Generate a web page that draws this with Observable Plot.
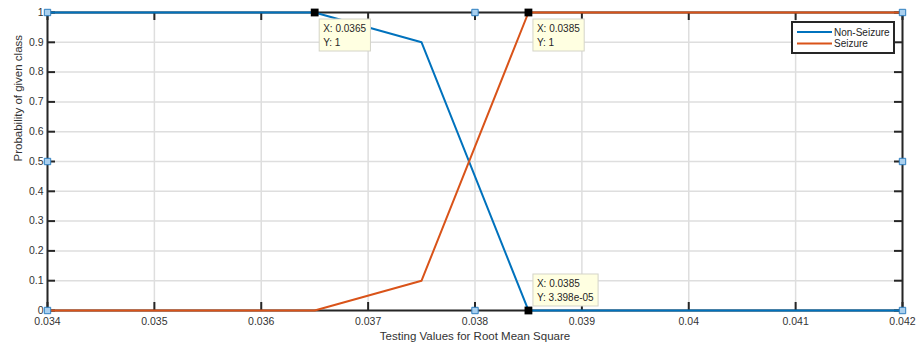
<!DOCTYPE html>
<html>
<head>
<meta charset="utf-8">
<script src="https://cdn.jsdelivr.net/npm/d3@7"></script>
<script src="https://cdn.jsdelivr.net/npm/@observablehq/plot@0.6"></script>
<style>
  html, body { margin: 0; padding: 0; background: #fff; }
  svg { display: block; }
</style>
</head>
<body>
<script>
// Classifier output probabilities across RMS test values
const testValues = [0.034, 0.0365, 0.0375, 0.0385, 0.042];
const nonSeizure = [1, 1, 0.9, 3.398e-5, 0];
const seizure    = [0, 0, 0.1, 1, 1];
const seriesNames = ["Non-Seizure", "Seizure"];
const seriesColors = ["#0072BD", "#D95319"];

const xTicks = [0.034, 0.035, 0.036, 0.037, 0.038, 0.039, 0.04, 0.041, 0.042];
const yTicks = [0, 0.1, 0.2, 0.3, 0.4, 0.5, 0.6, 0.7, 0.8, 0.9, 1];

// Data tips: [series index, point index, box placement relative to the point]
const tipPoints = [[0, 1, "below"], [1, 3, "below"], [0, 3, "above"]];

// Axes selection handles (corners and edge midpoints)
const handleX = [0.034, 0.038, 0.042, 0.034, 0.042, 0.034, 0.038, 0.042];
const handleY = [1, 1, 1, 0.5, 0.5, 0, 0, 0];

const series = [nonSeizure, seizure];
const rows = series.flatMap((vals, s) =>
  vals.map((v, i) => ({x: testValues[i], y: v, name: seriesNames[s]})));
const tips = tipPoints.map(([s, i, place]) => ({x: testValues[i], y: series[s][i], place}));
const handles = handleX.map((x, i) => ({x, y: handleY[i]}));

const W = 918, H = 354;
const mL = 47, mR = 16, mT = 12, mB = 44;
const fw = W - mL - mR, fh = H - mT - mB;
const tickLen = 8;
const axisColor = "#262626";

function fmtG4(v) {
  if (v !== 0 && Math.abs(v) < 1e-4) {
    return v.toExponential(3).replace(/e([+-])(\d)$/, "e$10$2");
  }
  return String(+v.toPrecision(4));
}

const chart = Plot.plot({
  width: W, height: H,
  marginLeft: mL, marginRight: mR, marginTop: mT, marginBottom: mB,
  style: {fontFamily: "'Liberation Sans', Arial, sans-serif", fontSize: "10.5px", color: "#333", background: "#fff"},
  x: {domain: [0.034, 0.042], ticks: xTicks, tickSize: 0, tickPadding: 7, tickFormat: d => String(d), label: null},
  y: {domain: [0, 1], ticks: yTicks, tickSize: 0, tickPadding: 4, tickFormat: d => String(d), label: null},
  color: {domain: seriesNames, range: seriesColors},
  marks: [
    Plot.ruleX(xTicks, {x: d => d, stroke: "#dedede", strokeWidth: 1.5}),
    Plot.ruleY(yTicks, {y: d => d, stroke: "#dedede", strokeWidth: 1.5}),
    Plot.frame({stroke: axisColor, strokeWidth: 2}),
    Plot.tickX(xTicks, {x: d => d, insetTop: fh - tickLen, stroke: axisColor, strokeWidth: 2}),
    Plot.tickX(xTicks, {x: d => d, insetBottom: fh - tickLen, stroke: axisColor, strokeWidth: 2}),
    Plot.tickY(yTicks, {y: d => d, insetRight: fw - tickLen, stroke: axisColor, strokeWidth: 2}),
    Plot.tickY(yTicks, {y: d => d, insetLeft: fw - tickLen, stroke: axisColor, strokeWidth: 2}),
    Plot.line(rows, {x: "x", y: "y", z: "name", stroke: "name", strokeWidth: 2}),
    Plot.dot(handles, {x: "x", y: "y", symbol: "square", r: 3.6, fill: "#a9cfee", stroke: "#2f7fc0", strokeWidth: 1}),
    Plot.dot(tips, {x: "x", y: "y", symbol: "square", r: 4.4, fill: "#000", stroke: "none"}),
    Plot.text(["Testing Values for Root Mean Square"], {text: d => d, frameAnchor: "bottom", dy: 29, fontSize: 11.5, fill: "#333"}),
    Plot.text(["Probability of given class"], {text: d => d, frameAnchor: "left", dx: -29, rotate: -90, fontSize: 11.5, fill: "#333"})
  ]
});

document.body.appendChild(chart);

// Data tip boxes and legend drawn on top of the plot
const xs = chart.scale("x"), ys = chart.scale("y");
const svg = d3.select(chart);
const font = "'Liberation Sans', Arial, sans-serif";

const tipLayer = svg.append("g")
  .attr("font-family", font).attr("font-size", 10).attr("text-anchor", "start");
tips.forEach(t => {
  const px = xs.apply(t.x), py = ys.apply(t.y);
  const g = tipLayer.append("g");
  const rect = g.append("rect");
  const lines = [`X: ${fmtG4(t.x)}`, `Y: ${fmtG4(t.y)}`];
  const bx = px + 5;
  const by = t.place === "below" ? py + 7 : py - 36;
  const txt = g.append("text").attr("fill", "#262626");
  lines.forEach((s, k) => txt.append("tspan").attr("x", bx + 4).attr("y", by + 13 + k * 14).text(s));
  const bb = txt.node().getBBox();
  rect.attr("x", bx).attr("y", by).attr("width", bb.width + 8).attr("height", 32)
    .attr("fill", "#ffffe1").attr("stroke", "#d4d4c8").attr("stroke-width", 1);
});

// Legend
const lg = svg.append("g")
  .attr("font-family", font).attr("font-size", 10).attr("text-anchor", "start");
const lgX = 792, lgY = 22, lgW = 102, lgH = 31;
lg.append("rect").attr("x", lgX).attr("y", lgY).attr("width", lgW).attr("height", lgH)
  .attr("fill", "#fff").attr("stroke", axisColor).attr("stroke-width", 2);
seriesNames.forEach((name, k) => {
  const cy = lgY + 10 + k * 11.5;
  lg.append("line").attr("x1", lgX + 5).attr("x2", lgX + 40).attr("y1", cy).attr("y2", cy)
    .attr("stroke", seriesColors[k]).attr("stroke-width", 2);
  lg.append("text").attr("x", lgX + 42).attr("y", cy).attr("dy", "0.35em")
    .attr("fill", "#262626").text(name);
});
</script>
</body>
</html>
